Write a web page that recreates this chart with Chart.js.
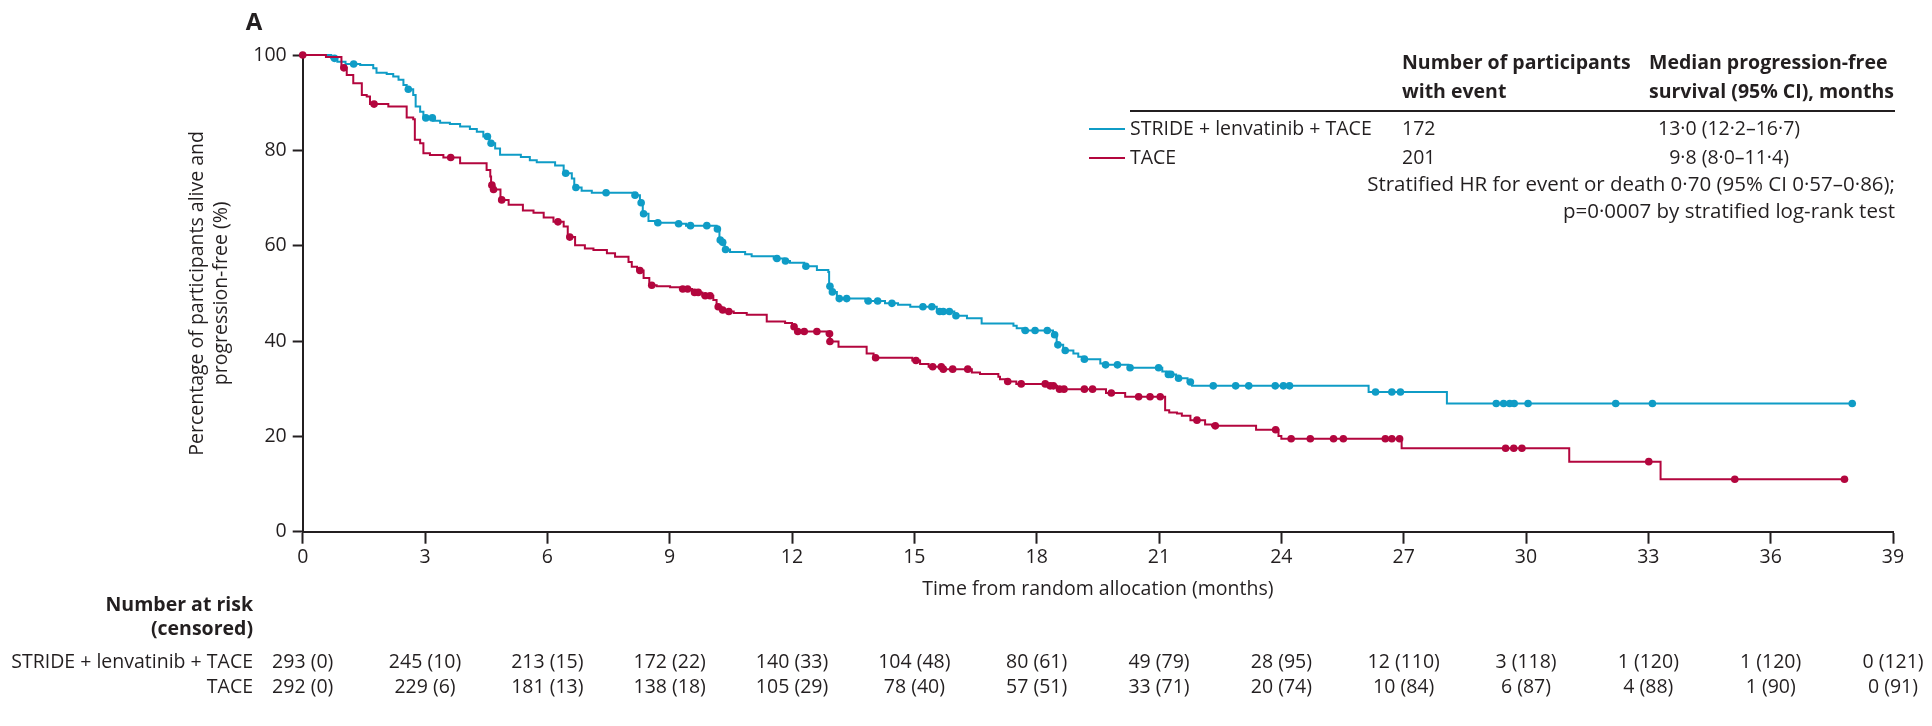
<!DOCTYPE html>
<html>
<head>
<meta charset="utf-8">
<script src="https://cdn.jsdelivr.net/npm/chart.js@4.4.1/dist/chart.umd.min.js"></script>
<style>
  html, body { margin: 0; padding: 0; background: #fff; }
  #wrap { width: 1932px; height: 726px; }
</style>
</head>
<body>
<div id="wrap"><canvas id="graph" width="1932" height="726"></canvas></div>
<script>
// DADOS
const months = [0, 3, 6, 9, 12, 15, 18, 21, 24, 27, 30, 33, 36, 39];
const yTicks = [0, 20, 40, 60, 80, 100];

const groups = ["STRIDE + lenvatinib + TACE", "TACE"];
const events = [172, 201];
const medians = ["13·0 (12·2–16·7)", "\u20079·8 (8·0–11·4)"];

// STRIDE + lenvatinib + TACE (KM steps)
const strideTimes = [0, 0.7, 0.85, 1.05, 1.41, 1.73, 1.81, 2.06, 2.22, 2.35, 2.47, 2.55, 2.71, 2.77, 2.88, 2.96,
  3.2, 3.37, 3.61, 3.86, 4.1, 4.27, 4.43, 4.58, 4.72, 4.84, 5.35, 5.57, 5.74, 6.19, 6.4, 6.6, 6.66, 6.84, 7.09,
  8.1, 8.27, 8.34, 8.48, 8.65, 9.15, 9.4, 10.15, 10.22, 10.28, 10.35, 10.48, 10.85, 11.01, 11.55, 11.8, 11.95,
  12.3, 12.61, 12.89, 12.91, 12.97, 13.1, 13.8, 14.28, 14.6, 14.9, 15.55, 15.98, 16.29, 16.65, 17.43, 17.51,
  17.65, 18.4, 18.49, 18.65, 18.9, 19.02, 19.12, 19.56, 19.65, 20.25, 21.08, 21.18, 21.42, 21.7, 21.81, 26.14,
  28.06, 38.0];
const strideSurv = [100, 99.3, 98.6, 98.1, 97.9, 97.2, 96.3, 96.0, 95.5, 94.8, 93.7, 92.8, 91.6, 89.2, 88.1, 86.8,
  86.2, 85.8, 85.5, 85.0, 84.5, 83.9, 82.9, 81.5, 80.4, 79.1, 78.6, 77.9, 77.5, 76.8, 75.2, 74.1, 72.2, 71.5, 71.1,
  70.6, 69.0, 66.7, 65.2, 64.8, 64.6, 64.2, 63.5, 61.2, 60.7, 59.2, 58.7, 58.2, 57.8, 57.3, 56.8, 56.4,
  55.7, 54.9, 54.5, 51.5, 50.3, 48.9, 48.4, 47.9, 47.6, 47.2, 46.2, 45.3, 44.8, 43.7, 43.2, 42.7,
  42.2, 41.3, 39.2, 38.0, 37.4, 36.7, 36.2, 35.3, 35.0, 34.4, 33.6, 33.0, 32.2, 31.4, 30.6, 29.3,
  26.9, 26.9];
const strideCensored = [0.78, 1.25, 2.59, 3.02, 3.18, 4.53, 4.62, 6.45, 6.7, 7.44, 8.15, 8.3, 8.36, 8.71, 9.22,
  9.51, 9.91, 10.17, 10.24, 10.3, 10.37, 11.63, 11.84, 12.34, 12.93, 12.99, 13.16, 13.34, 13.87, 14.1, 14.45,
  15.21, 15.43, 15.62, 15.71, 15.86, 16.02, 17.72, 17.96, 18.26, 18.44, 18.52, 18.7, 19.17, 19.69, 19.98, 20.29,
  20.99, 21.23, 21.29, 21.48, 21.77, 22.33, 22.88, 23.2, 23.85, 24.05, 24.2, 26.31, 26.71, 26.92, 29.27, 29.45,
  29.6, 29.71, 30.05, 32.2, 33.1, 38.0];

// TACE (KM steps)
const taceTimes = [0, 0.57, 0.95, 1.08, 1.24, 1.45, 1.57, 1.65, 2.1, 2.55, 2.71, 2.75, 2.88, 2.96, 3.12, 3.45,
  3.86, 4.51, 4.6, 4.62, 4.66, 4.85, 5.05, 5.4, 5.66, 5.91, 6.15, 6.4, 6.5, 6.68, 6.92, 7.13, 7.46, 7.66, 7.99,
  8.07, 8.2, 8.36, 8.5, 8.68, 9.01, 9.25, 9.55, 9.8, 10.07, 10.15, 10.27, 10.4, 10.57, 10.89, 11.38, 11.83, 12.0,
  12.1, 12.85, 12.93, 13.14, 13.83, 14.0, 14.95, 15.14, 15.35, 15.7, 16.41, 16.61, 17.06, 17.1, 17.25, 17.5,
  18.28, 18.5, 19.7, 20.17, 21.15, 21.25, 21.44, 21.56, 21.77, 22.13, 22.3, 23.38, 23.93, 24.0, 26.95, 31.06,
  33.3, 37.81];
const taceSurv = [100, 99.6, 97.3, 95.8, 94.1, 91.6, 91.3, 89.7, 89.2, 86.9, 86.5, 82.2, 81.5, 79.4, 79.0, 78.5,
  77.3, 75.9, 74.5, 72.7, 71.8, 69.6, 68.6, 67.4, 66.9, 65.9, 65.0, 64.0, 61.8, 60.1, 59.4, 59.1, 58.4, 57.7, 56.6,
  55.6, 54.8, 53.2, 51.7, 51.5, 51.3, 50.9, 50.2, 49.5, 48.6, 47.2, 46.5, 46.2, 45.9, 45.5, 44.1, 43.8, 43.0,
  42.0, 41.5, 39.9, 38.8, 37.4, 36.5, 35.9, 35.2, 34.6, 34.1, 33.4, 33.1, 32.5, 32.0, 31.5, 31.0,
  30.6, 29.9, 29.1, 28.3, 25.5, 25.0, 24.8, 24.3, 23.4, 22.5, 22.2, 21.4, 20.1, 19.5, 17.5, 14.7,
  11.0, 11.0];
const taceCensored = [0, 1.01, 1.75, 3.63, 4.64, 4.68, 4.88, 6.26, 6.55, 8.27, 8.56, 9.32, 9.44, 9.61, 9.7, 9.87,
  9.99, 10.19, 10.3, 10.45, 12.05, 12.14, 12.3, 12.61, 12.92, 12.93, 14.05, 15.04, 15.45, 15.66, 15.71, 15.94,
  16.31, 17.29, 17.62, 18.21, 18.33, 18.41, 18.56, 18.67, 19.17, 19.37, 19.83, 20.5, 20.78, 21.03, 21.93, 22.38,
  23.86, 24.24, 24.71, 25.28, 25.52, 26.55, 26.71, 26.9, 29.5, 29.7, 29.9, 33.01, 35.12, 37.81];

// NUMBER AT RISK (CENSORED)
const strideRisk = [293, 245, 213, 172, 140, 104, 80, 49, 28, 12, 3, 1, 1, 0];
const strideRiskCens = [0, 10, 15, 22, 33, 48, 61, 79, 95, 110, 118, 120, 120, 121];
const taceRisk = [292, 229, 181, 138, 105, 78, 57, 33, 20, 10, 6, 4, 1, 0];
const taceRiskCens = [0, 6, 13, 18, 29, 40, 51, 71, 74, 84, 87, 88, 90, 91];

// CORES / FONTE
const BLUE = "#0f9cc6";
const RED = "#b3063e";
const INK = "#231f20";
const FONT = "'Open Sans', sans-serif";
const FS = 19.5;

// valor da curva em t (degrau)
function survAt(times, surv, t) {
    let v = surv[0];
    for (let i = 0; i < times.length; i++) {
        if (times[i] <= t) v = surv[i];
    }
    return v;
}

const stridePts = strideTimes.map((t, i) => ({ x: t, y: strideSurv[i] }));
const tacePts = taceTimes.map((t, i) => ({ x: t, y: taceSurv[i] }));
const strideCens = strideCensored.map(t => ({ x: t, y: survAt(strideTimes, strideSurv, t) }));
const taceCens = taceCensored.map(t => ({ x: t, y: survAt(taceTimes, taceSurv, t) }));

// TEXTOS EXTRA (tabelas)
const extraText = {
    id: "extraText",
    afterDraw(chart) {
        const ctx = chart.ctx;
        const xs = chart.scales.x;
        ctx.save();
        ctx.fillStyle = INK;
        ctx.textBaseline = "middle";

        // painel A
        ctx.font = "bold 24px " + FONT;
        ctx.textAlign = "center";
        ctx.fillText("A", 254, 23);

        // tabela da legenda
        ctx.textAlign = "left";
        ctx.font = "bold " + FS + "px " + FONT;
        ctx.fillText("Number of participants", 1402, 63);
        ctx.fillText("with event", 1402, 92);
        ctx.fillText("Median progression-free", 1649, 63);
        ctx.fillText("survival (95% CI), months", 1649, 92);

        ctx.strokeStyle = INK;
        ctx.lineWidth = 2;
        ctx.beginPath();
        ctx.moveTo(1130, 111);
        ctx.lineTo(1895, 111);
        ctx.stroke();

        const rowsY = [129, 158];
        const colors = [BLUE, RED];
        ctx.font = FS + "px " + FONT;
        for (let i = 0; i < groups.length; i++) {
            ctx.strokeStyle = colors[i];
            ctx.beginPath();
            ctx.moveTo(1089, rowsY[i]);
            ctx.lineTo(1125, rowsY[i]);
            ctx.stroke();
            ctx.fillStyle = INK;
            ctx.fillText(groups[i], 1130, rowsY[i]);
            ctx.fillText(String(events[i]), 1402, rowsY[i]);
            ctx.fillText(medians[i], 1658, rowsY[i]);
        }
        ctx.textAlign = "right";
        ctx.font = "20.5px " + FONT;
        ctx.fillText("Stratified HR for event or death 0·70 (95% CI 0·57–0·86);", 1895, 185);
        ctx.fillText("p=0·0007 by stratified log-rank test", 1895, 212);

        // numero em risco
        ctx.font = "bold " + FS + "px " + FONT;
        ctx.fillText("Number at risk", 253, 605);
        ctx.fillText("(censored)", 253, 629);
        ctx.font = FS + "px " + FONT;
        ctx.fillText(groups[0], 253, 662);
        ctx.fillText(groups[1], 253, 687);
        ctx.textAlign = "center";
        months.forEach((m, i) => {
            const px = xs.getPixelForValue(m);
            ctx.fillText(strideRisk[i] + " (" + strideRiskCens[i] + ")", px, 662);
            ctx.fillText(taceRisk[i] + " (" + taceRiskCens[i] + ")", px, 687);
        });
        ctx.restore();
    },
};

// CONSTRUIR GRAFICO
const ctx = document.getElementById("graph");
Chart.defaults.color = INK;
Chart.defaults.font.family = FONT;
Chart.defaults.font.size = FS;

new Chart(ctx, {
    type: "line",
    data: {
        datasets: [
            {
                label: groups[0],
                data: stridePts,
                borderColor: BLUE,
                borderWidth: 2,
                stepped: true,
                pointRadius: 0,
                fill: false,
                order: 3,
                clip: false,
            },
            {
                label: groups[0] + " censored",
                data: strideCens,
                showLine: false,
                pointRadius: 3.8,
                pointBackgroundColor: BLUE,
                pointBorderWidth: 0,
                order: 2,
                clip: false,
            },
            {
                label: groups[1],
                data: tacePts,
                borderColor: RED,
                borderWidth: 2,
                stepped: true,
                pointRadius: 0,
                fill: false,
                order: 1,
                clip: false,
            },
            {
                label: groups[1] + " censored",
                data: taceCens,
                showLine: false,
                pointRadius: 3.8,
                pointBackgroundColor: RED,
                pointBorderWidth: 0,
                order: 0,
                clip: false,
            },
        ],
    },
    options: {
        responsive: false,
        devicePixelRatio: 1,
        animation: false,
        layout: {
            padding: { top: 55, right: 39, left: 0, bottom: 0 },
        },
        scales: {
            x: {
                type: "linear",
                min: 0,
                max: 39,
                afterBuildTicks: (s) => { s.ticks = months.map(v => ({ value: v })); },
                afterFit: (s) => { s.height = 194.3; },
                grid: {
                    drawOnChartArea: false,
                    drawTicks: true,
                    tickLength: 12,
                    tickWidth: 2,
                    color: INK,
                },
                border: { display: true, color: INK, width: 2 },
                ticks: { padding: 2, maxRotation: 0, autoSkip: false },
                title: {
                    display: true,
                    text: "Time from random allocation (months)",
                    padding: { top: 0, bottom: 125 },
                },
            },
            y: {
                min: 0,
                max: 100,
                afterBuildTicks: (s) => { s.ticks = yTicks.map(v => ({ value: v })); },
                afterFit: (s) => { s.width = 302.7; },
                grid: {
                    drawOnChartArea: false,
                    drawTicks: true,
                    tickLength: 10,
                    tickWidth: 2,
                    color: INK,
                },
                border: { display: true, color: INK, width: 2 },
                ticks: { padding: 6 },
                title: {
                    display: true,
                    text: ["Percentage of participants alive and", "progression-free (%)"],
                    padding: { top: 186, bottom: 0 },
                },
            },
        },
        plugins: {
            legend: { display: false },
            tooltip: { enabled: false },
        },
    },
    plugins: [extraText],
});
</script>
</body>
</html>
